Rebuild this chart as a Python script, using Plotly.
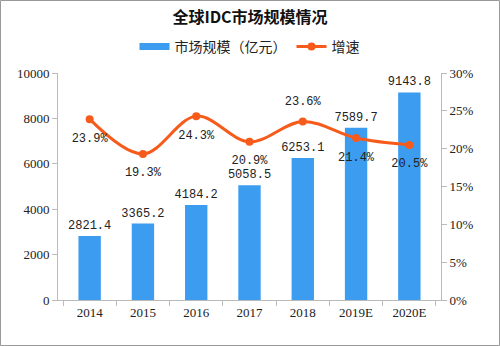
import plotly.graph_objects as go

years = ["2014", "2015", "2016", "2017", "2018", "2019E", "2020E"]
market = [2821.4, 3365.2, 4184.2, 5058.5, 6253.1, 7589.7, 9143.8]
growth = [23.9, 19.3, 24.3, 20.9, 23.6, 21.4, 20.5]
growth_pos = ["bottom center", "bottom center", "bottom center", "bottom center",
              "top center", "bottom center", "bottom center"]

W, H = 500, 346
L, R, T, B = 58, 59, 73, 46
pw, ph = W - L - R, H - T - B

font_num = "Liberation Mono, DejaVu Sans Mono, monospace"
font_cjk = "Noto Sans CJK SC, sans-serif"
font_tick = "Liberation Serif, serif"
BLUE = "#3c9cf0"
ORANGE = "#f75b1c"

fig = go.Figure()
fig.add_trace(go.Bar(
    x=years, y=market, name="市场规模（亿元）", showlegend=False,
    marker=dict(color=BLUE, line=dict(width=0)),
    text=[f"{v:.1f}" for v in market], textposition="outside",
    constraintext="none",
    textfont=dict(family=font_num, size=12, color="#222"),
    cliponaxis=False,
))
# legend proxy for bars (wide rectangle)
fig.add_trace(go.Scatter(
    x=[None], y=[None], name="市场规模（亿元）", mode="lines",
    line=dict(color=BLUE, width=7), showlegend=True,
))
fig.add_trace(go.Scatter(
    x=years, y=growth, name="增速", yaxis="y2",
    mode="lines+markers",
    line=dict(color=ORANGE, width=3, shape="spline", smoothing=1.0),
    marker=dict(color=ORANGE, size=8),
    cliponaxis=False,
))
# labels for growth, offset via invisible larger markers
fig.add_trace(go.Scatter(
    x=years, y=growth, yaxis="y2", showlegend=False, hoverinfo="skip",
    mode="markers+text",
    marker=dict(color="rgba(0,0,0,0)", size=20),
    text=[f"{v}%" for v in growth], textposition=growth_pos,
    textfont=dict(family=font_num, size=12, color="#222"),
    cliponaxis=False,
))

fig.update_layout(
    width=W, height=H,
    margin=dict(l=L, r=R, t=T, b=B, autoexpand=False),
    paper_bgcolor="white", plot_bgcolor="white",
    bargap=0.58,
    showlegend=True,
    title=dict(text="<b>全球IDC市场规模情况</b>", x=0.5, xanchor="center",
               y=1 - 17 / H, yanchor="middle",
               font=dict(family=font_cjk, size=16, color="#111")),
    legend=dict(orientation="h", x=0.5, xanchor="center", y=1 - 47 / H, yref="container",
                yanchor="middle", font=dict(family=font_cjk, size=14, color="#222"),
                itemwidth=30, traceorder="normal"),
    xaxis=dict(showline=True, linecolor="#bbbbbb", linewidth=1,
               ticks="outside", tickson="boundaries", ticklen=5, tickcolor="#bbbbbb",
               tickfont=dict(family=font_tick, size=13, color="#222"),
               showgrid=False),
    yaxis=dict(range=[0, 10000], dtick=2000, tickformat="d", showline=True, linecolor="#bbbbbb",
               ticks="outside", ticklen=5, tickcolor="#bbbbbb", showgrid=False,
               zeroline=False,
               tickfont=dict(family=font_tick, size=13, color="#222")),
    yaxis2=dict(range=[0, 30], dtick=5, overlaying="y", side="right",
                ticksuffix="%", showline=True, linecolor="#bbbbbb",
                ticks="outside", ticklen=5, tickcolor="#bbbbbb", showgrid=False,
                zeroline=False,
                tickfont=dict(family=font_tick, size=13, color="#222")),
)

# outer border
fig.add_shape(type="rect", xref="paper", yref="paper",
              x0=(0.5 - L) / pw, x1=(W - 0.5 - L) / pw,
              y0=-(B - 0.5) / ph, y1=1 + (T - 0.5) / ph,
              line=dict(color="#999999", width=1), layer="below")

fig.write_html("out.html")
